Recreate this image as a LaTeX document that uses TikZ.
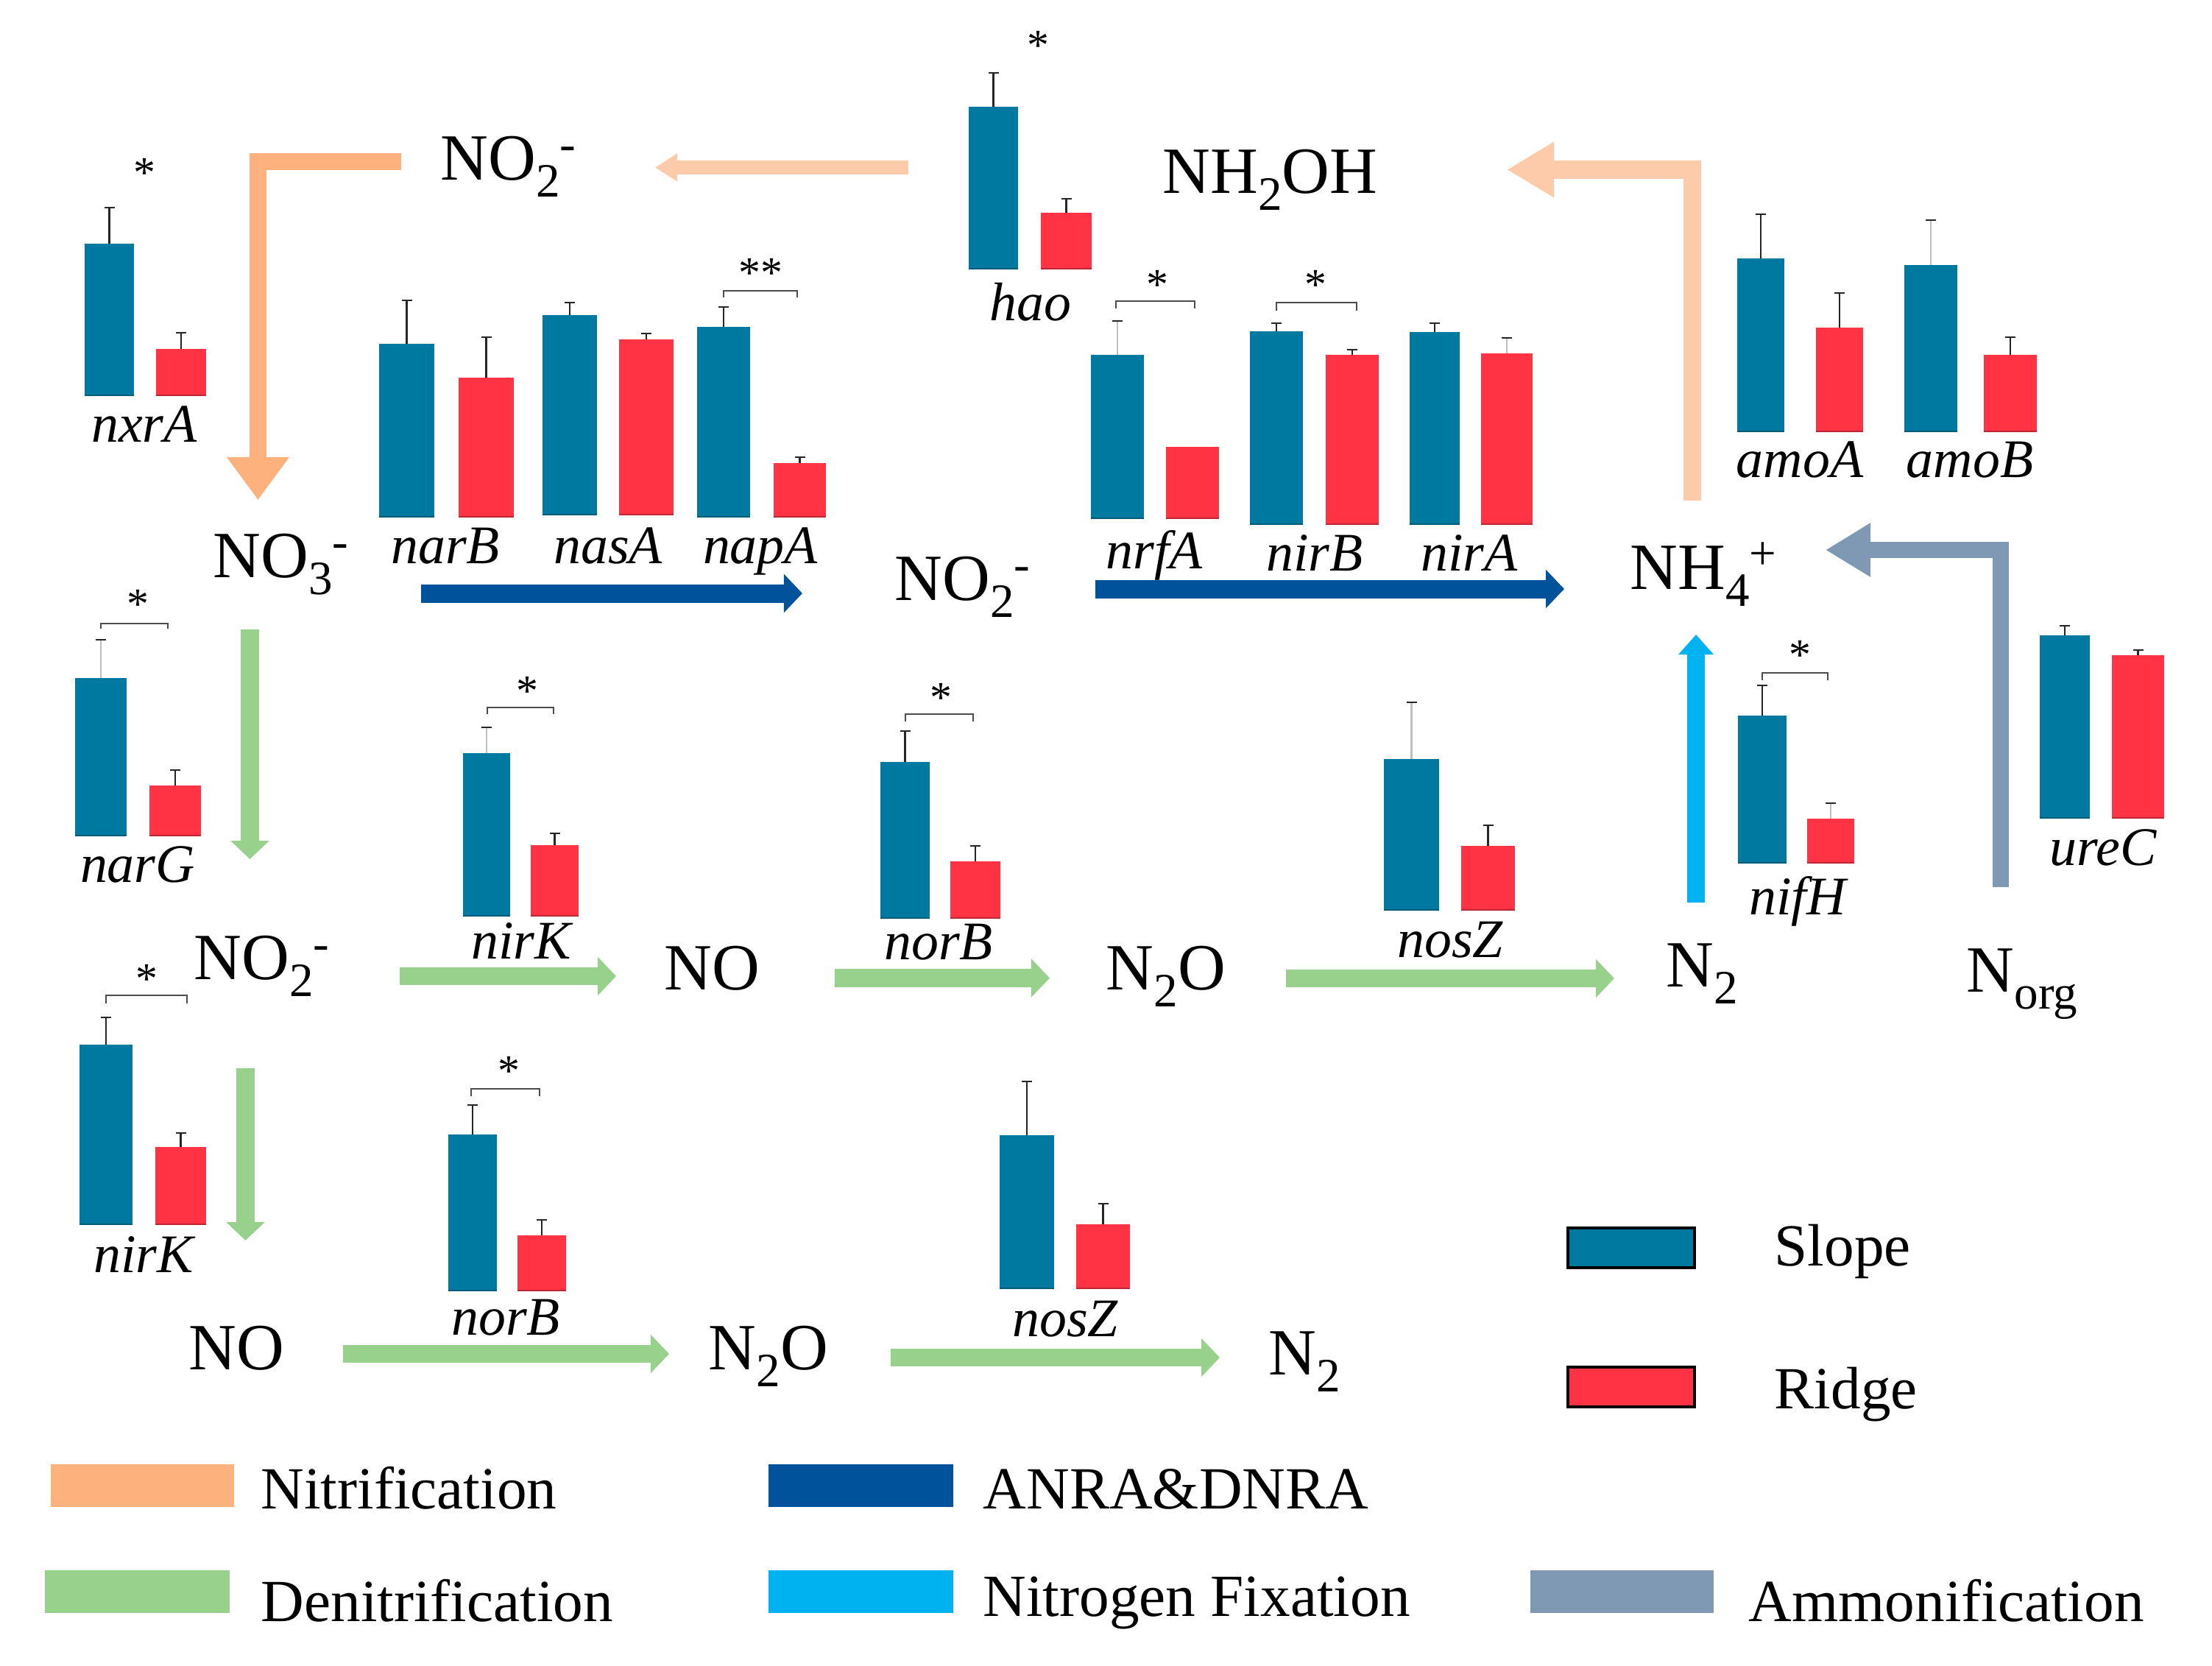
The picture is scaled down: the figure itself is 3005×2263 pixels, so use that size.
\documentclass[tikz,border=0pt]{standalone}
\usepackage{fontspec}
\setmainfont{Liberation Serif}
\usetikzlibrary{arrows.meta}
\definecolor{slope}{HTML}{0079A0}
\definecolor{ridge}{HTML}{FF3344}
\definecolor{nitri}{HTML}{FDB27E}
\definecolor{nitril}{HTML}{FDCBA9}
\definecolor{anra}{HTML}{00529B}
\definecolor{deni}{HTML}{98D18C}
\definecolor{fix}{HTML}{00B2F0}
\definecolor{ammon}{HTML}{7F98B3}
\newcommand{\sbs}[1]{\raisebox{-0.26em}{\fontsize{18.5}{20}\selectfont #1}}
\newcommand{\sps}[1]{\raisebox{0.30em}{\fontsize{18.5}{20}\selectfont #1}}
\newcommand{\gbar}[5]{%
  \fill[#5] (#1,#3) rectangle (#2,#4);
  \draw[#5!75!black,line width=0.012cm] (#1,#4) -- (#2,#4);
}
\newcommand{\gerr}[4][errbar]{%
  \draw[#1] (#2,#3) -- (#2,#4);
  \draw[errbar] ({#2-7},#4) -- ({#2+7},#4);
}
\newcommand{\gbrk}[4]{\draw[brk] (#1,#4) -- (#1,#3) -- (#2,#3) -- (#2,#4);}
\begin{document}
\begin{tikzpicture}[x=0.01cm,y=-0.01cm,
  species/.style={anchor=base west,inner sep=0,font=\fontsize{25.5}{30}\selectfont},
  gene/.style={anchor=base,inner sep=0,font=\fontsize{21}{25}\selectfont\itshape},
  leg/.style={anchor=base west,inner sep=0,font=\fontsize{23.1}{28}\selectfont},
  sig/.style={anchor=base,inner sep=0,font=\fontsize{17}{20}\selectfont},
  errbar/.style={line width=0.028cm,draw=black!85},
  errlight/.style={line width=0.028cm,draw=black!25},
  brk/.style={line width=0.025cm,draw=black!70},
  greenarr/.style={draw=deni,line width=0.245cm,-{Triangle[length=0.25cm,width=0.51cm]}},
  anraarr/.style={draw=anra,line width=0.25cm,-{Triangle[length=0.25cm,width=0.51cm]}},
  legbox/.style={line width=0.045cm,draw=black}
]
\useasboundingbox (0,0) rectangle (3005,2263);

% ---------- species ----------
\node[species] (no2top) at (598,244) {NO\sbs{2}\sps{-}};
\node[species] (nh2oh) at (1579,262) {NH\sbs{2}OH};
\node[species] (no3) at (289,784) {NO\sbs{3}\sps{-}};
\node[species] (no2mid) at (1215,815) {NO\sbs{2}\sps{-}};
\node[species] (nh4) at (2214,800) {NH\sbs{4}\sps{+}};
\node[species] (no2left) at (263,1330) {NO\sbs{2}\sps{-}};
\node[species] (nomid) at (902,1344) {NO};
\node[species] (n2omid) at (1502,1344) {N\sbs{2}O};
\node[species] (n2mid) at (2263,1340) {N\sbs{2}};
\node[species] (norg) at (2671,1347) {N\sbs{org}};
\node[species] (nobot) at (256,1860) {NO};
\node[species] (n2obot) at (962,1860) {N\sbs{2}O};
\node[species] (n2bot) at (1723,1867) {N\sbs{2}};

% ---------- arrows ----------
\coordinate (nitAs) at (545,219.5);
\coordinate (nitAe) at (350.5,679);
\draw[draw=nitri,line width=0.225cm,line join=miter,-{Triangle[length=0.58cm,width=0.81cm]}] (nitAs) -| (nitAe);
\coordinate (haoS) at (1234,227.5);
\coordinate (haoE) at (890,227.5);
\draw[draw=nitril,line width=0.19cm,-{Triangle[length=0.30cm,width=0.36cm]}] (haoS) -- (haoE);
\coordinate (amoS) at (2298.5,680);
\coordinate (amoE) at (2047,230.5);
\draw[draw=nitril,line width=0.24cm,line join=miter,-{Triangle[length=0.64cm,width=0.71cm]}] (amoS) |- (amoE);
\coordinate (an1s) at (572,806);
\coordinate (an1e) at (1090,806);
\draw[anraarr] (an1s) -- (an1e);
\coordinate (an2s) at (1488,800);
\coordinate (an2e) at (2125,800);
\draw[anraarr] (an2s) -- (an2e);
\coordinate (amS) at (2717.5,1205);
\coordinate (amE) at (2480,747);
\draw[draw=ammon,line width=0.22cm,line join=miter,-{Triangle[length=0.61cm,width=0.69cm]}] (amS) |- (amE);
\coordinate (fxS) at (2304,1226);
\coordinate (fxE) at (2304,862);
\draw[draw=fix,line width=0.24cm,-{Triangle[length=0.27cm,width=0.46cm]}] (fxS) -- (fxE);
\coordinate (gd1s) at (339.5,855);
\coordinate (gd1e) at (339.5,1167);
\draw[greenarr] (gd1s) -- (gd1e);
\coordinate (gd2s) at (333.5,1451);
\coordinate (gd2e) at (333.5,1685);
\draw[greenarr] (gd2s) -- (gd2e);
\coordinate (g1s) at (543,1326);
\coordinate (g1e) at (837,1326);
\draw[greenarr] (g1s) -- (g1e);
\coordinate (g2s) at (1134,1328.5);
\coordinate (g2e) at (1426,1328.5);
\draw[greenarr] (g2s) -- (g2e);
\coordinate (g3s) at (1747,1329);
\coordinate (g3e) at (2193,1329);
\draw[greenarr] (g3s) -- (g3e);
\coordinate (g4s) at (466,1839);
\coordinate (g4e) at (909,1839);
\draw[greenarr] (g4s) -- (g4e);
\coordinate (g5s) at (1210,1844);
\coordinate (g5e) at (1657,1844);
\draw[greenarr] (g5s) -- (g5e);

% ---------- bars: \gbar{x1}{x2}{top}{bottom}{colour}, then error ----------
% hao
\gbar{1316}{1383}{145}{365}{slope} \gerr{1349.5}{145}{99}
\gbar{1414}{1483}{289}{365}{ridge} \gerr{1448.5}{289}{270}
% nxrA
\gbar{115}{182}{331}{537}{slope} \gerr{148.5}{331}{282}
\gbar{212}{280}{474}{537}{ridge} \gerr{246}{474}{452}
% narB nasA napA
\gbar{515}{590}{467}{702}{slope} \gerr{552.5}{467}{408}
\gbar{623}{698}{513}{702}{ridge} \gerr{660.5}{513}{458}
\gbar{737}{811}{428}{699}{slope} \gerr{774}{428}{411}
\gbar{841}{915}{461}{699}{ridge} \gerr{878}{461}{453}
\gbar{947}{1019}{444}{702}{slope} \gerr{983}{444}{417}
\gbar{1051}{1122}{629}{702}{ridge} \gerr{1086.5}{629}{621}
\gbrk{983}{1083}{395}{404}
% nrfA nirB nirA
\gbar{1482}{1554}{482}{704}{slope} \gerr[errlight]{1518}{482}{436}
\gbar{1584}{1656}{607}{704}{ridge}
\gbrk{1516}{1623}{409}{419}
\gbar{1698}{1770}{450}{712}{slope} \gerr{1734}{450}{439}
\gbar{1801}{1873}{482}{712}{ridge} \gerr{1837}{482}{475}
\gbrk{1734}{1843}{411}{422}
\gbar{1915}{1983}{451}{712}{slope} \gerr{1949}{451}{439}
\gbar{2012}{2082}{480}{712}{ridge} \gerr[errlight]{2047}{480}{459}
% amoA amoB
\gbar{2360}{2424}{351}{586}{slope} \gerr{2392}{351}{291}
\gbar{2467}{2531}{445}{586}{ridge} \gerr{2499}{445}{398}
\gbar{2587}{2659}{360}{586}{slope} \gerr[errlight]{2623}{360}{299}
\gbar{2695}{2767}{482}{586}{ridge} \gerr{2731}{482}{458}
% narG
\gbar{102}{172}{921}{1135}{slope} \gerr[errlight]{137}{921}{869}
\gbar{203}{273}{1067}{1135}{ridge} \gerr{238}{1067}{1046}
\gbrk{137}{228}{847}{854}
% nirK top
\gbar{629}{693}{1023}{1244}{slope} \gerr[errlight]{661}{1023}{988}
\gbar{721}{786}{1148}{1244}{ridge} \gerr{753.5}{1148}{1132}
\gbrk{662}{752}{961}{970}
% norB top
\gbar{1196}{1263}{1035}{1247}{slope} \gerr{1229.5}{1035}{993}
\gbar{1291}{1359}{1170}{1247}{ridge} \gerr{1325}{1170}{1149}
\gbrk{1230}{1322}{970}{980}
% nosZ mid
\gbar{1880}{1955}{1031}{1236}{slope} \gerr[errlight]{1917.5}{1031}{954}
\gbar{1985}{2058}{1149}{1236}{ridge} \gerr{2021.5}{1149}{1121}
% nifH
\gbar{2361}{2427}{972}{1172}{slope} \gerr{2394}{972}{931}
\gbar{2455}{2519}{1112}{1172}{ridge} \gerr[errlight]{2487}{1112}{1091}
\gbrk{2394}{2483}{914}{924}
% ureC
\gbar{2771}{2839}{863}{1111}{slope} \gerr{2805}{863}{850}
\gbar{2869}{2940}{890}{1111}{ridge} \gerr{2904.5}{890}{883}
% nirK bottom
\gbar{108}{180}{1419}{1663}{slope} \gerr{144}{1419}{1382}
\gbar{211}{280}{1558}{1663}{ridge} \gerr{245.5}{1558}{1539}
\gbrk{144}{254}{1352}{1363}
% norB bottom
\gbar{609}{675}{1541}{1753}{slope} \gerr{642}{1541}{1501}
\gbar{703}{769}{1678}{1753}{ridge} \gerr{736}{1678}{1657}
\gbrk{640}{733}{1479}{1489}
% nosZ bottom
\gbar{1358}{1432}{1542}{1750}{slope} \gerr{1395}{1542}{1469}
\gbar{1462}{1535}{1663}{1750}{ridge} \gerr{1498.5}{1663}{1635}

% ---------- significance ----------
\node[sig] (s1) at (1410,81) {*};
\node[sig] (s2) at (196,254) {*};
\node[sig] (s3) at (1033,390) {**};
\node[sig] (s4) at (1572,406) {*};
\node[sig] (s5) at (1787,406) {*};
\node[sig] (s6) at (187,840) {*};
\node[sig] (s7) at (716,958) {*};
\node[sig] (s8) at (1278,967) {*};
\node[sig] (s9) at (2445,909) {*};
\node[sig] (s10) at (199,1349) {*};
\node[sig] (s11) at (691,1474) {*};

% ---------- gene labels ----------
\node[gene] (hao) at (1400,435) {hao};
\node[gene] (nxrA) at (196,600) {nxrA};
\node[gene] (narB) at (605,765) {narB};
\node[gene] (nasA) at (826,765) {nasA};
\node[gene] (napA) at (1033,765) {napA};
\node[gene] (nrfA) at (1568,772) {nrfA};
\node[gene] (nirB) at (1786,775) {nirB};
\node[gene] (nirA) at (1996,775) {nirA};
\node[gene] (amoA) at (2445,648) {amoA};
\node[gene] (amoB) at (2676,648) {amoB};
\node[gene] (narG) at (187,1198) {narG};
\node[gene] (nirK) at (708,1302) {nirK};
\node[gene] (norB) at (1275,1303) {norB};
\node[gene] (nosZ) at (1970,1300) {nosZ};
\node[gene] (nifH) at (2442,1242) {nifH};
\node[gene] (ureC) at (2857,1175) {ureC};
\node[gene] (nirKb) at (195,1728) {nirK};
\node[gene] (norBb) at (687,1813) {norB};
\node[gene] (nosZb) at (1447,1815) {nosZ};

% ---------- legends ----------
\draw[legbox,fill=slope] (2130,1668) rectangle (2302,1722);
\node[leg] (lslope) at (2410,1719) {Slope};
\draw[legbox,fill=ridge] (2130,1857) rectangle (2302,1911);
\node[leg] (lridge) at (2410,1913) {Ridge};

\fill[nitri] (69,1989) rectangle (318,2047);
\node[leg] (lnit) at (354,2049) {Nitrification};
\fill[anra] (1044,1989) rectangle (1295,2047);
\node[leg] (lanra) at (1335,2049) {ANRA\&DNRA};
\fill[deni] (61,2133) rectangle (312,2191);
\node[leg] (lden) at (354,2202) {Denitrification};
\fill[fix] (1044,2133) rectangle (1295,2191);
\node[leg] (lfix) at (1335,2195) {Nitrogen Fixation};
\fill[ammon] (2079,2133) rectangle (2328,2191);
\node[leg] (lamm) at (2375,2202) {Ammonification};
\end{tikzpicture}
\end{document}
